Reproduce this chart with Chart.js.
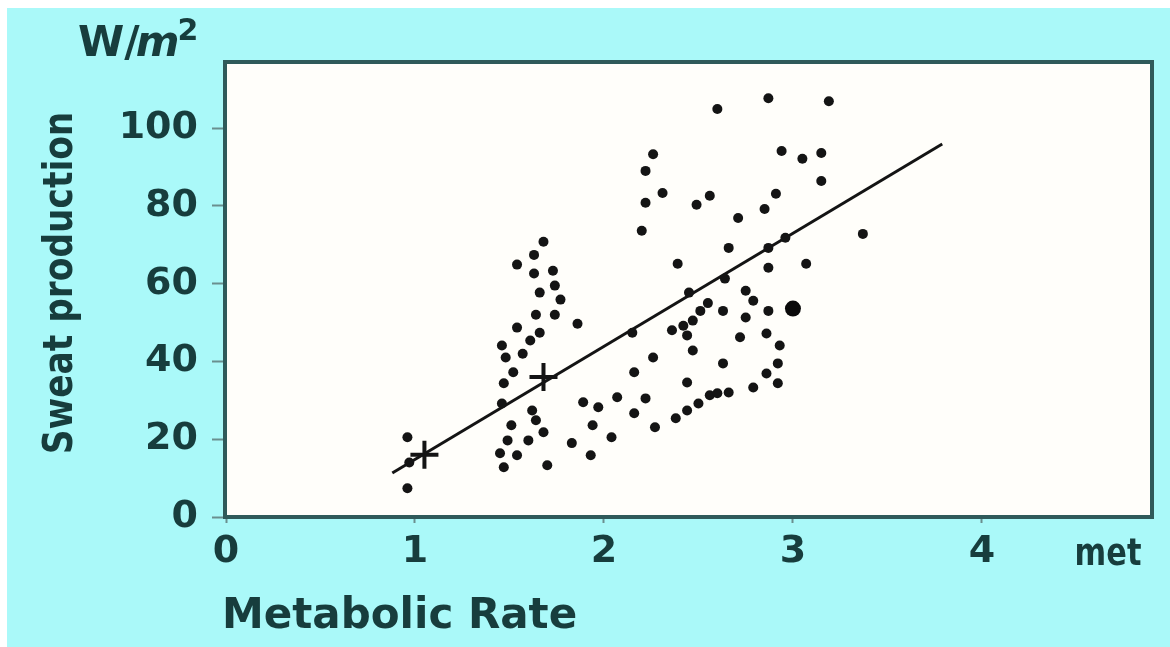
<!DOCTYPE html>
<html>
<head>
<meta charset="utf-8">
<script src="https://cdn.jsdelivr.net/npm/chart.js@4.4.1/dist/chart.umd.min.js"></script>
<style>
    html, body { margin: 0; padding: 0; background: #ffffff; }
    #wrap { width: 1170px; height: 647px; }
</style>
</head>
<body>
<div id="wrap"><canvas id="sweatChart" width="1170" height="647"></canvas></div>
<script>
// measured points (met, W/m2)
const metRate = [0.96, 0.96, 0.97,
    1.68, 1.63, 1.54, 1.63, 1.73, 1.74, 1.66, 1.77, 1.64, 1.74, 1.86, 1.54, 1.66, 1.61, 1.46, 1.48, 1.57, 1.52, 1.47, 1.46, 1.62,
    1.64, 1.68, 1.51, 1.49, 1.60, 1.45, 1.54, 1.47, 1.70, 1.83,
    1.89, 1.97, 1.94, 1.93, 2.04, 2.07, 2.16, 2.22, 2.16, 2.26, 2.27, 2.15,
    2.26, 2.22, 2.31, 2.22, 2.20, 2.49, 2.56, 2.39, 2.45, 2.60,
    2.36, 2.42, 2.47, 2.51, 2.55, 2.44, 2.47, 2.44, 2.38, 2.44, 2.50, 2.56, 2.60, 2.66,
    2.87, 3.19, 2.94, 3.05, 3.15, 3.15, 2.91, 2.85, 2.71, 2.66, 3.37, 2.87, 2.96, 2.64, 2.87, 3.07,
    2.75, 2.79, 2.63, 2.75, 2.87, 2.72, 2.86, 2.93, 2.63, 2.92, 2.86, 2.79, 2.92];
const sweat = [20.5, 7.4, 14,
    70.8, 67.4, 64.9, 62.6, 63.3, 59.5, 57.7, 55.9, 52, 52, 49.7, 48.7, 47.4, 45.4, 44.1, 41, 42, 37.2, 34.4, 29.2, 27.4,
    24.9, 21.8, 23.6, 19.7, 19.7, 16.4, 15.9, 12.8, 13.3, 19,
    29.5, 28.2, 23.6, 15.9, 20.5, 30.8, 37.2, 30.5, 26.7, 41, 23.1, 47.4,
    93.3, 89, 83.3, 80.8, 73.6, 80.3, 82.6, 65.1, 57.7, 104.9,
    48, 49.2, 50.5, 53, 55, 46.7, 42.8, 34.6, 25.4, 27.4, 29.2, 31.3, 31.8, 32,
    107.7, 106.9, 94.1, 92.1, 93.6, 86.4, 83.1, 79.2, 76.9, 69.2, 72.8, 69.2, 71.8, 61.3, 64.1, 65.1,
    58.2, 55.6, 53, 51.3, 53, 46.2, 47.2, 44.1, 39.5, 39.5, 36.9, 33.3, 34.4];

// the one big dot
const bigMet = [3.0];
const bigSweat = [53.6];

// group means (drawn as crosses)
const meanMet = [1.05, 1.68];
const meanSweat = [16, 36];

// regression line ends
const fitMet = [0.88, 3.79];
const fitSweat = [11.3, 95.9];

const xTicks = [0, 1, 2, 3, 4];
const yTicks = [0, 20, 40, 60, 80, 100];

const textColor = '#173d3d';
const frameColor = '#2f5a5a';

function toPoints(xs, ys) {
    return xs.map((x, i) => ({ x: x, y: ys[i] }));
}

const backdrop = {
    id: 'backdrop',
    beforeDraw(chart) {
        const ctx = chart.ctx;
        const a = chart.chartArea;
        ctx.save();
        ctx.fillStyle = '#ffffff';
        ctx.fillRect(0, 0, chart.width, chart.height);
        ctx.fillStyle = '#aaf9f9';
        ctx.fillRect(7, 8, chart.width - 7, chart.height - 8);
        ctx.fillStyle = '#fffefa';
        ctx.fillRect(a.left, a.top, a.right - a.left, a.bottom - a.top);
        ctx.restore();
    },
    afterDraw(chart) {
        const ctx = chart.ctx;
        const a = chart.chartArea;
        ctx.save();
        ctx.strokeStyle = frameColor;
        ctx.lineWidth = 4;
        ctx.strokeRect(a.left - 1, a.top, a.right - a.left + 1, a.bottom - a.top);

        ctx.fillStyle = textColor;
        ctx.textBaseline = 'alphabetic';

        // unit at the top of the y axis
        ctx.font = 'bold 42px "DejaVu Sans"';
        ctx.textAlign = 'left';
        ctx.fillText('W/', 78, 56);
        let w = ctx.measureText('W/').width;
        ctx.font = 'italic bold 42px "DejaVu Sans"';
        ctx.fillText('m', 78 + w - 4, 56);
        let w2 = ctx.measureText('m').width;
        ctx.font = 'bold 30px "DejaVu Sans"';
        ctx.fillText('2', 78 + w + w2 - 6, 40);

        // y title, rotated
        ctx.save();
        ctx.translate(72, 283);
        ctx.rotate(-Math.PI / 2);
        ctx.scale(0.86, 1);
        ctx.font = 'bold 40px "DejaVu Sans"';
        ctx.textAlign = 'center';
        ctx.fillText('Sweat production', 0, 0);
        ctx.restore();

        // x title
        ctx.font = 'bold 42px "DejaVu Sans"';
        ctx.textAlign = 'left';
        ctx.fillText('Metabolic Rate', 222, 628);

        // unit at the end of the x axis
        ctx.save();
        ctx.translate(1108, 565);
        ctx.scale(0.8, 1);
        ctx.font = 'bold 38px "DejaVu Sans"';
        ctx.textAlign = 'center';
        ctx.fillText('met', 0, 0);
        ctx.restore();

        ctx.restore();
    }
};

let sweatChart = new Chart(document.getElementById('sweatChart'), {
    type: 'scatter',
    data: {
        datasets: [{
            label: 'Measurements',
            data: toPoints(metRate, sweat),
            pointRadius: 5,
            pointBackgroundColor: '#141414',
            pointBorderWidth: 0,
        }, {
            label: 'Large',
            data: toPoints(bigMet, bigSweat),
            pointRadius: 8,
            pointBackgroundColor: '#0a0a0a',
            pointBorderWidth: 0,
        }, {
            label: 'Means',
            data: toPoints(meanMet, meanSweat),
            pointStyle: 'cross',
            pointRadius: 14,
            pointBorderColor: '#141414',
            pointBorderWidth: 4,
        }, {
            type: 'line',
            label: 'Fit',
            data: toPoints(fitMet, fitSweat),
            borderColor: '#141414',
            borderWidth: 3,
            pointRadius: 0,
            fill: false,
        }],
    },
    options: {
        responsive: false,
        animation: false,
        layout: {
            padding: { top: 62, right: 13, left: 0, bottom: 0 }
        },
        plugins: {
            legend: { display: false },
            tooltip: { enabled: false },
        },
        scales: {
            x: {
                type: 'linear',
                min: 0,
                max: 4.9,
                afterBuildTicks: (scale) => {
                    scale.ticks = xTicks.map(v => ({ value: v }));
                },
                afterFit: (scale) => {
                    scale.height = 130;
                },
                border: { display: false },
                grid: {
                    drawOnChartArea: false,
                    tickLength: 6,
                    tickWidth: 2,
                    tickColor: '#6a8f8f',
                },
                ticks: {
                    padding: 6,
                    color: textColor,
                    font: { family: 'DejaVu Sans', weight: 'bold', size: 38 },
                    maxRotation: 0,
                    callback: (v) => String(v),
                },
            },
            y: {
                type: 'linear',
                min: 0,
                max: 117,
                afterBuildTicks: (scale) => {
                    scale.ticks = yTicks.map(v => ({ value: v }));
                },
                afterFit: (scale) => {
                    scale.width = 226;
                },
                border: { display: false },
                grid: {
                    drawOnChartArea: false,
                    tickLength: 14,
                    tickWidth: 2,
                    tickColor: '#6a8f8f',
                },
                ticks: {
                    padding: 14,
                    color: textColor,
                    font: { family: 'DejaVu Sans', weight: 'bold', size: 38 },
                    callback: (v) => String(v),
                },
            }
        }
    },
    plugins: [backdrop]
});
</script>
</body>
</html>
